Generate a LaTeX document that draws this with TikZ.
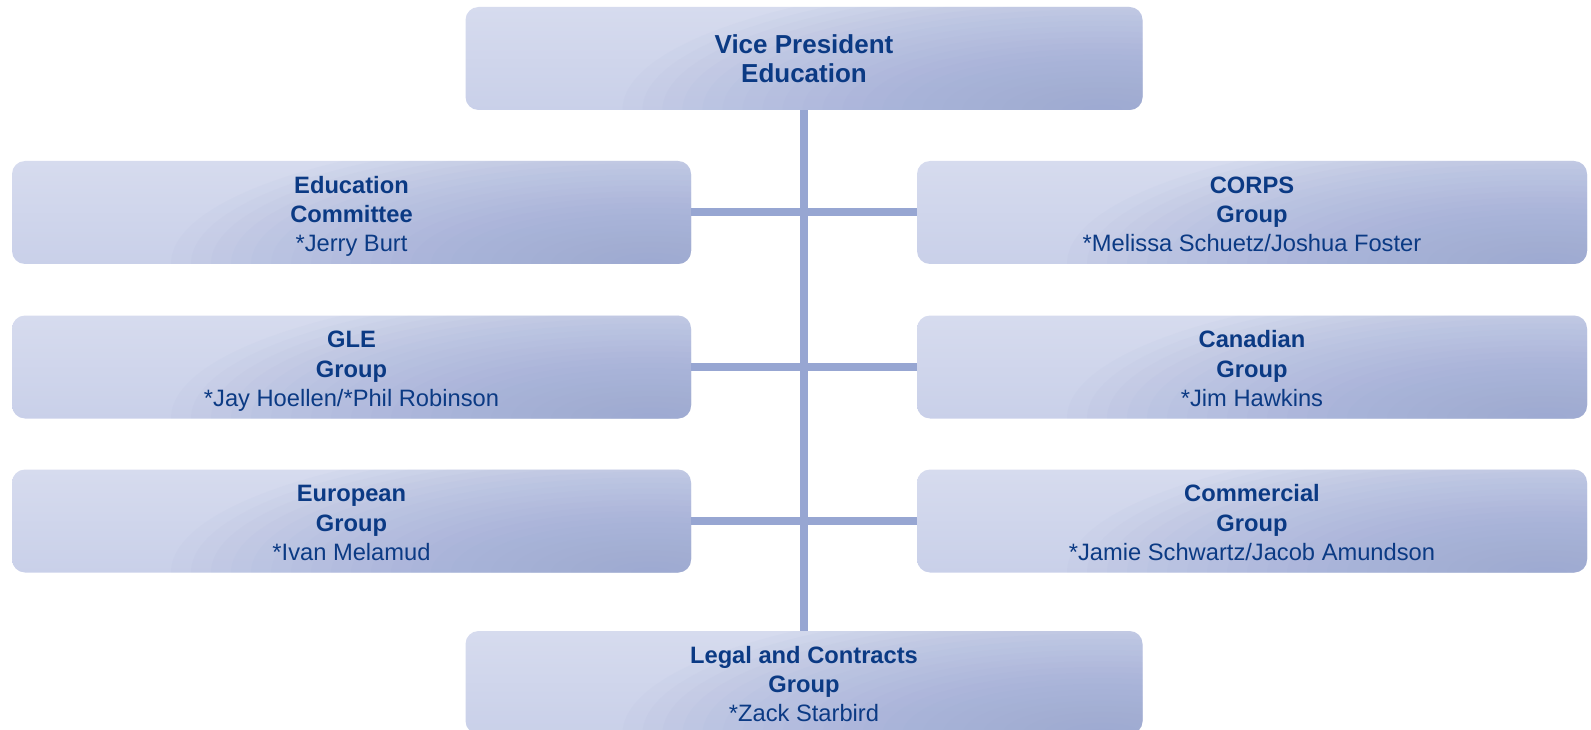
\documentclass[tikz,border=0pt]{standalone}
\usepackage{fontspec}
\setmainfont{Liberation Sans}
\definecolor{boxtop}{HTML}{D6DBEE}
\definecolor{boxbot}{HTML}{C9D0E9}
\definecolor{boxdark}{HTML}{95A3D2}
\definecolor{linecol}{HTML}{97A6D2}
\definecolor{txtcol}{HTML}{0B3A84}
\newcommand\firstl{\rule{0pt}{26pt}}
\newcommand\lastl{\rule[-6pt]{0pt}{6pt}}
\tikzset{
  orgbox/.style={rounded corners=13pt, top color=boxtop, bottom color=boxbot,
    draw=none, align=center, text=txtcol, inner sep=0pt,
    font=\fontsize{23.7}{29.4}\selectfont,
    path picture={\foreach \i in {1,...,24}{
      \fill[boxdark, opacity=0.05]
      ([xshift=-40pt]path picture bounding box.south east)
      ellipse [x radius=\i*20pt, y radius=\i*5.6pt];}}},
  sidebox/.style={orgbox, minimum width=679pt, minimum height=103pt},
  rbox/.style={orgbox, minimum width=670pt, minimum height=103pt},
  midbox/.style={orgbox, minimum width=677pt, minimum height=103pt},
  conn/.style={draw=linecol, line width=8pt}
}
\begin{document}
\begin{tikzpicture}[x=1pt, y=-1pt]
\useasboundingbox (0,0) rectangle (1591,730);
% boxes
\node[midbox] (vp) at (804,58.5) {\fontsize{26}{31}\selectfont\bfseries Vice President\\\fontsize{26}{31}\selectfont\bfseries Education};
\node[sidebox] (ec) at (351.5,212.5) {\firstl\textbf{Education}\\\textbf{Committee}\\*Jerry Burt\lastl};
\node[sidebox] (gle) at (351.5,367) {\firstl\textbf{GLE}\\\textbf{Group}\\*Jay Hoellen/*Phil Robinson\lastl};
\node[sidebox] (eu) at (351.5,521) {\firstl\textbf{European}\\\textbf{Group}\\*Ivan Melamud\lastl};
\node[rbox] (corps) at (1252,212.5) {\firstl\textbf{CORPS}\\\textbf{Group}\\*Melissa Schuetz/Joshua Foster\lastl};
\node[rbox] (can) at (1252,367) {\firstl\textbf{Canadian}\\\textbf{Group}\\*Jim Hawkins\lastl};
\node[rbox] (com) at (1252,521) {\firstl\textbf{Commercial}\\\textbf{Group}\\*Jamie Schwartz/Jacob Amundson\lastl};
\node[midbox] (legal) at (804,682.5) {\firstl\textbf{Legal and Contracts}\\\textbf{Group}\\*Zack Starbird\lastl};
% connectors
\draw[conn] (vp.south) -- (legal.north);
\draw[conn] (ec.east) -- (corps.west);
\draw[conn] (gle.east) -- (can.west);
\draw[conn] (eu.east) -- (com.west);
\end{tikzpicture}
\end{document}
